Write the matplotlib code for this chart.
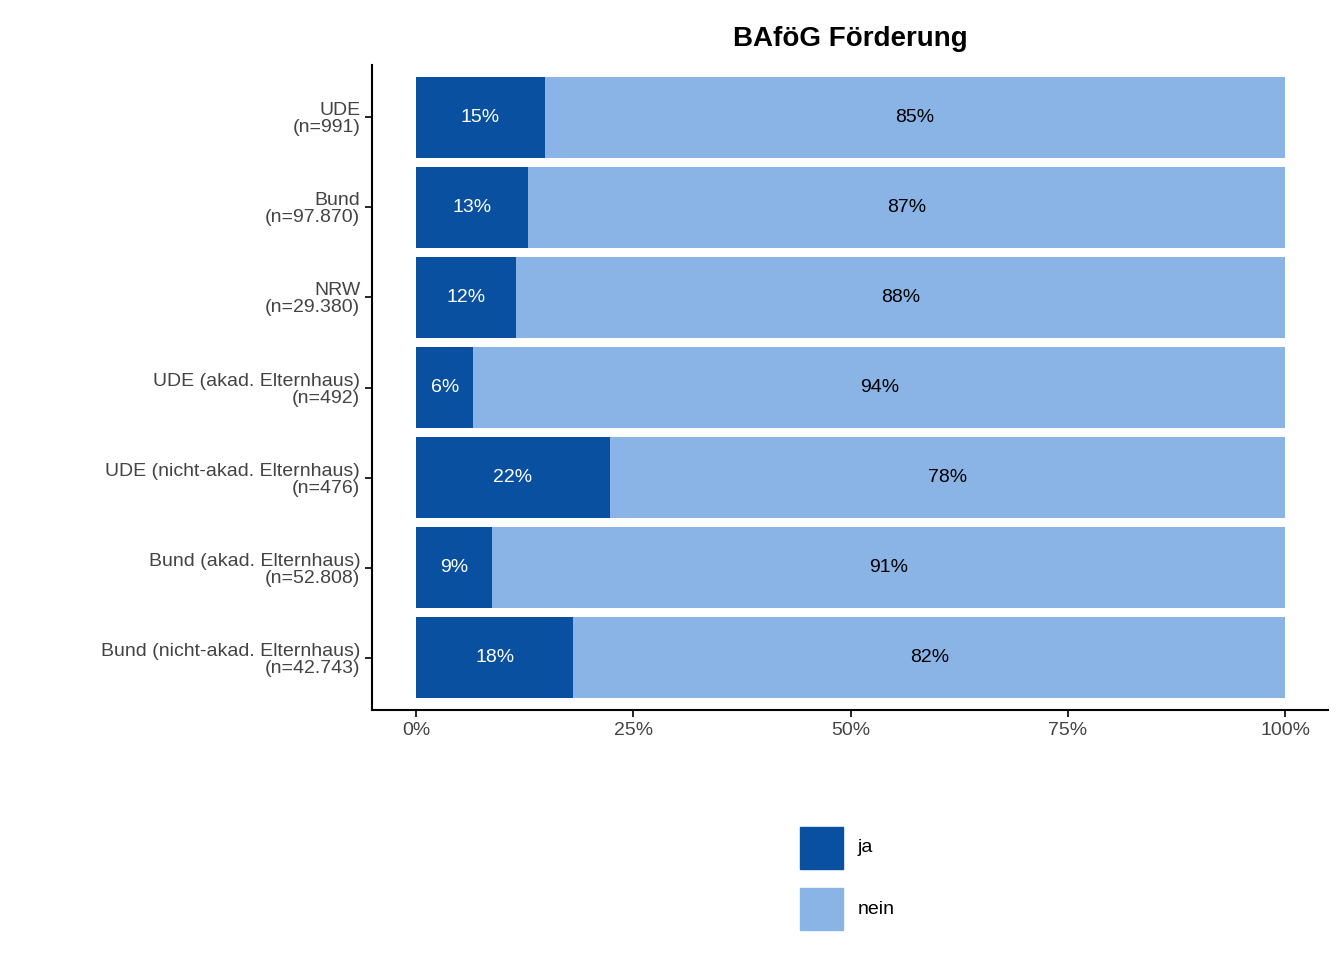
import matplotlib
matplotlib.use("Agg")
import matplotlib.pyplot as plt
from matplotlib.patches import Rectangle

plt.rcParams["font.family"] = "Liberation Sans"

categories = ["UDE\n(n=991)", "Bund\n(n=97.870)", "NRW\n(n=29.380)",
              "UDE (akad. Elternhaus)\n(n=492)", "UDE (nicht-akad. Elternhaus)\n(n=476)",
              "Bund (akad. Elternhaus)\n(n=52.808)", "Bund (nicht-akad. Elternhaus)\n(n=42.743)"]
ja = [14.8, 12.9, 11.5, 6.6, 22.3, 8.7, 18.1]
ja_labels = ["15%", "13%", "12%", "6%", "22%", "9%", "18%"]
nein_labels = ["85%", "87%", "88%", "94%", "78%", "91%", "82%"]
nein = [100 - v for v in ja]
xticks = [0, 25, 50, 75, 100]
xticklabels = ["0%", "25%", "50%", "75%", "100%"]

dark = "#0A50A1"
light = "#8AB4E6"

fig = plt.figure(figsize=(13.44, 9.6), dpi=100)
ax = fig.add_axes([0.2768, 0.2604, 0.7113, 0.6719])
y = list(range(len(categories)))
ax.barh(y, ja, height=0.9, color=dark)
ax.barh(y, nein, left=ja, height=0.9, color=light)
for i in y:
    ax.text(ja[i] / 2, i, ja_labels[i], ha="center", va="center", color="white", fontsize=14)
    ax.text(ja[i] + nein[i] / 2, i, nein_labels[i], ha="center", va="center", color="black", fontsize=14)
ax.set_xlim(-5.06, 104.9)
ax.set_ylim(6.58, -0.58)
ax.set_yticks(y)
ax.set_yticklabels(categories, fontsize=14, color="#444444", linespacing=1.0)
ax.set_xticks(xticks)
ax.set_xticklabels(xticklabels, fontsize=14, color="#444444")
for s in ["top", "right"]:
    ax.spines[s].set_visible(False)
for s in ["left", "bottom"]:
    ax.spines[s].set_linewidth(1.5)
ax.tick_params(width=1.2, length=5)
ax.set_title("BAföG Förderung", fontsize=20, fontweight="bold", pad=14)

for lab, col, yy in [("ja", dark, 827), ("nein", light, 888)]:
    fig.patches.append(Rectangle((800 / 1344, 1 - (yy + 42) / 960), 43 / 1344, 42 / 960,
                                 transform=fig.transFigure, color=col))
    fig.text(858 / 1344, 1 - (yy + 21) / 960, lab, fontsize=14, va="center")

fig.savefig("out.png", dpi=100)
